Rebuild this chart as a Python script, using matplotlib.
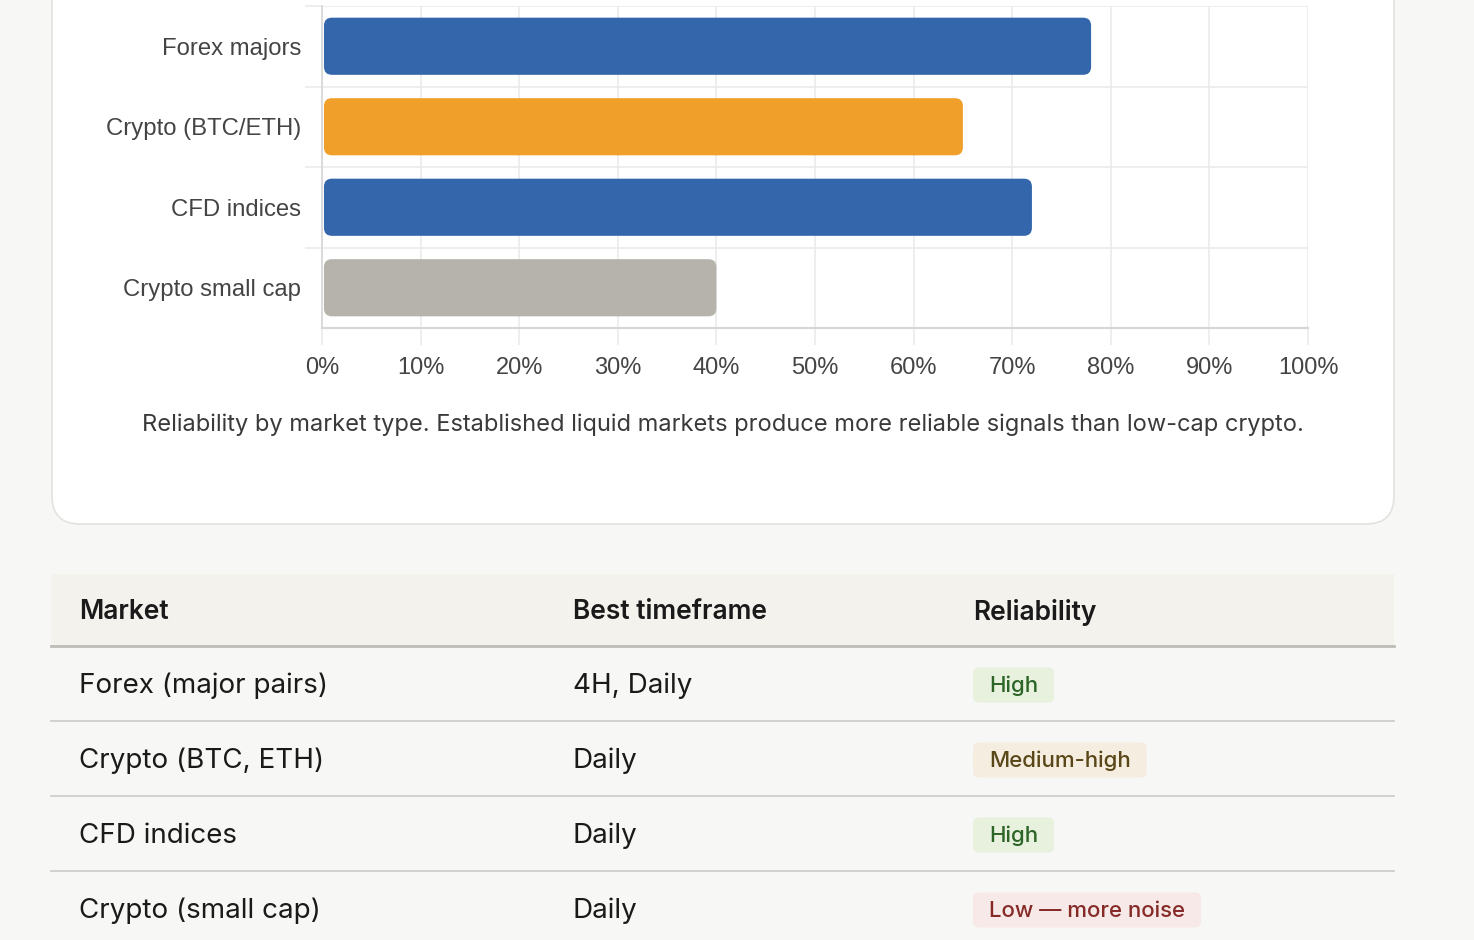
import matplotlib
matplotlib.use('Agg')
import matplotlib.pyplot as plt
from matplotlib.patches import FancyBboxPatch, Rectangle

# 图表数据
markets = ['Forex majors', 'Crypto (BTC/ETH)', 'CFD indices', 'Crypto small cap']
reliability = [78, 65, 72, 40]
bar_colors = ['#3366ab', '#f0a02a', '#3366ab', '#b5b3ab']
x_ticks = [0, 10, 20, 30, 40, 50, 60, 70, 80, 90, 100]
caption = ('Reliability by market type. Established liquid markets produce '
           'more reliable signals than low-cap crypto.')

# 表格数据
table_header = ['Market', 'Best timeframe', 'Reliability']
table_market = ['Forex (major pairs)', 'Crypto (BTC, ETH)', 'CFD indices', 'Crypto (small cap)']
table_timeframe = ['4H, Daily', 'Daily', 'Daily', 'Daily']
table_reliability = ['High', 'Medium-high', 'High', 'Low \u2014 more noise']
badge_kind = ['high', 'medium', 'high', 'low']

badge_styles = {
    'high': ('#e7f1de', '#2c6526'),
    'medium': ('#f5eee0', '#5a4719'),
    'low': ('#f6e9e8', '#852a27'),
}

W, H = 1474, 940
fig = plt.figure(figsize=(W / 100, H / 100), dpi=100)
fig.patch.set_facecolor('#f7f7f5')

# 背景层，用像素坐标
bg = fig.add_axes([0, 0, 1, 1])
bg.set_xlim(0, W)
bg.set_ylim(H, 0)
bg.axis('off')

card = FancyBboxPatch((52, -60), 1342, 584, boxstyle='round,pad=0,rounding_size=28',
                      facecolor='white', edgecolor='#e2e2de', linewidth=1.2)
bg.add_patch(card)

bg.text(723, 425, caption, ha='center', va='center', fontsize=17,
        color='#3a3a3a', family=['Inter', 'DejaVu Sans'])

# 表格
tbl_left, tbl_right = 51, 1394
col_x = [79, 573, 973]
bg.add_patch(Rectangle((tbl_left, 574), tbl_right - tbl_left, 72,
                       facecolor='#f3f2ec', edgecolor='none'))
bg.plot([tbl_left, tbl_right], [646, 646], color='#bdbcb6', lw=2)
for x, h in zip(col_x, table_header):
    bg.text(x, 612, h, ha='left', va='center', fontsize=19, fontweight='semibold',
            color='#1a1a1a', family=['Inter', 'DejaVu Sans'])

row_h = 75
fig.canvas.draw()
renderer = fig.canvas.get_renderer()
for i in range(len(table_market)):
    yc = 686 + i * row_h
    if i > 0:
        bg.plot([tbl_left, tbl_right], [646 + i * row_h] * 2, color='#cacac5', lw=1.2)
    bg.text(col_x[0], yc, table_market[i], ha='left', va='center', fontsize=20,
            color='#1a1a1a', family=['Inter', 'DejaVu Sans'])
    bg.text(col_x[1], yc, table_timeframe[i], ha='left', va='center', fontsize=20,
            color='#1a1a1a', family=['Inter', 'DejaVu Sans'])
    face, fg = badge_styles[badge_kind[i]]
    t = bg.text(col_x[2] + 16, yc, table_reliability[i], ha='left', va='center',
                fontsize=16, fontweight='medium', color=fg,
                family=['Inter', 'DejaVu Sans'], zorder=3)
    tw = t.get_window_extent(renderer).width
    badge = FancyBboxPatch((col_x[2], yc - 18.5), tw + 32, 35,
                           boxstyle='round,pad=0,rounding_size=6',
                           facecolor=face, edgecolor='none', zorder=2)
    bg.add_patch(badge)

# 条形图
x0, x1 = 322, 1308
y_top, y_bot = 6, 328
ax = fig.add_axes([x0 / W, 1 - y_bot / H, (x1 - x0) / W, (y_bot - y_top) / H])
ax.set_facecolor('none')
ax.set_xlim(0, 100)
ax.set_ylim(len(markets) - 0.5, -0.5)

px_x = (x1 - x0) / 100
px_y = (y_bot - y_top) / len(markets)
bar_h = 0.71
r_px = 8
for i, (v, c) in enumerate(zip(reliability, bar_colors)):
    p = FancyBboxPatch((0.2, i - bar_h / 2), v - 0.2, bar_h,
                       boxstyle=f'round,pad=0,rounding_size={r_px / px_x}',
                       mutation_aspect=px_x / px_y,
                       facecolor=c, edgecolor='none', zorder=3)
    ax.add_patch(p)

grid_c = '#ebebeb'
ax.set_xticks(x_ticks)
ax.set_xticklabels([f'{t}%' for t in x_ticks])
ax.set_yticks(range(len(markets)))
ax.set_yticklabels(markets)
ax.set_yticks([i + 0.5 for i in range(-1, len(markets) - 1)], minor=True)
ax.tick_params(axis='x', length=12, width=1.2, color=grid_c, pad=9,
               labelsize=17, labelcolor='#444444')
ax.tick_params(axis='y', which='major', length=0, pad=15, labelsize=17.2,
               labelcolor='#444444')
ax.tick_params(axis='y', which='minor', length=12, width=1.2, color=grid_c)
ax.grid(axis='x', color=grid_c, lw=1.2, zorder=0)
ax.grid(axis='y', which='minor', color=grid_c, lw=1.2, zorder=0)
for lab in ax.get_xticklabels() + ax.get_yticklabels():
    lab.set_family(['Liberation Sans', 'DejaVu Sans'])

for side in ['top', 'right']:
    ax.spines[side].set_visible(False)
ax.spines['left'].set_color('#d6d6d6')
ax.spines['left'].set_linewidth(1.2)
ax.spines['bottom'].set_color('#d6d6d6')
ax.spines['bottom'].set_linewidth(1.6)

fig.savefig('out.png', dpi=100, facecolor=fig.get_facecolor())
plt.close(fig)
